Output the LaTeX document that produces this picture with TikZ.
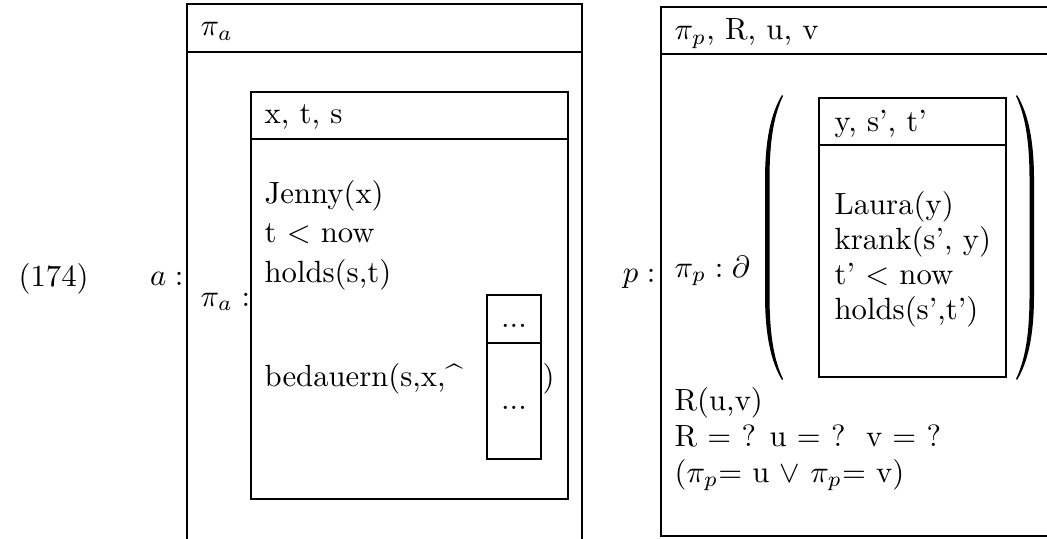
\documentclass[tikz,border=0pt]{standalone}
\usepackage{amsmath,amssymb}
\usepackage{tikz}

\begin{document}
\begin{tikzpicture}[x=0.3257pt,y=-0.3257pt,
    txt/.style={anchor=base west,inner sep=0pt},
    lbl/.style={inner sep=0pt},
    drsline/.style={line width=0.45pt}]
  \useasboundingbox (0,0) rectangle (1047,538);
  % number and labels
  \node[lbl,anchor=west] (num) at (18,279) {(174)};
  \node[lbl,anchor=east] (alab) at (184,279) {$a:$};
  \node[lbl,anchor=east] (plab) at (656,279) {$p:$};
  % box a
  \draw[drsline] (187,545) -- (187,4) -- (582,4) -- (582,545);
  \draw[drsline] (187,52) -- (582,52);
  \node[txt] (ahead) at (200,36) {$\pi_a$};
  \node[lbl,anchor=west] (palab) at (200,302) {$\pi_a:$};
  % inner box of a
  \draw[drsline] (251,92) rectangle (568,499);
  \draw[drsline] (251,139) -- (568,139);
  \node[txt] (ihead) at (264,124) {x, t, s};
  \foreach \y/\l [count=\i] in {203/Jenny(x), 242/t $<$ now, 282/{holds(s,t)}}
    \node[txt] (ca\i) at (264,\y) {\l};
  \node[txt] (bed) at (264,386) {bedauern(s,x,\^{}};
  \node[txt] (bclose) at (542,386) {)};
  % small box
  \draw[drsline] (487,295) rectangle (541,459);
  \draw[drsline] (487,343) -- (541,343);
  \node[lbl,anchor=base] (sdots1) at (514,327) {...};
  \node[lbl,anchor=base] (sdots2) at (514,409) {...};
  % box p
  \draw[drsline] (1060,7) -- (661,7) -- (661,536) -- (1060,536);
  \draw[drsline] (661,54) -- (1060,54);
  \node[txt] (phead) at (674,40) {$\pi_p$, R, u, v};
  \node[lbl,anchor=west] (pplab) at (674,271) {$\pi_p:\partial$};
  % parentheses
  \fill (782,95) .. controls (771,113) and (765,140) .. (765,180) -- (765,295)
    .. controls (765,335) and (771,362) .. (782,380) -- (783,379)
    .. controls (774,360) and (769.5,335) .. (769.5,295) -- (769.5,180)
    .. controls (769.5,140) and (774,115) .. (783,96) -- cycle;
  \fill (1017,95) .. controls (1028,113) and (1034,140) .. (1034,180) -- (1034,295)
    .. controls (1034,335) and (1028,362) .. (1017,380) -- (1016,379)
    .. controls (1025,360) and (1029.5,335) .. (1029.5,295) -- (1029.5,180)
    .. controls (1029.5,140) and (1025,115) .. (1016,96) -- cycle;
  % inner box of p
  \draw[drsline] (819,98) rectangle (1006,377);
  \draw[drsline] (819,145) -- (1006,145);
  \node[txt] (jhead) at (834,131) {y, s', t'};
  \foreach \y/\l [count=\i] in {214/Laura(y), 249/{krank(s', y)}, 284/t' $<$ now, 319/{holds(s',t')}}
    \node[txt] (cp\i) at (834,\y) {\l};
  % conditions of p
  \foreach \y/\l [count=\i] in {410/{R(u,v)}, 446/R $=$ ? u $=$ ?\ \ v $=$ ?, 482/{($\pi_p$$=$ u $\vee$ $\pi_p$$=$ v)}}
    \node[txt] (cr\i) at (674,\y) {\l};
\end{tikzpicture}
\end{document}
